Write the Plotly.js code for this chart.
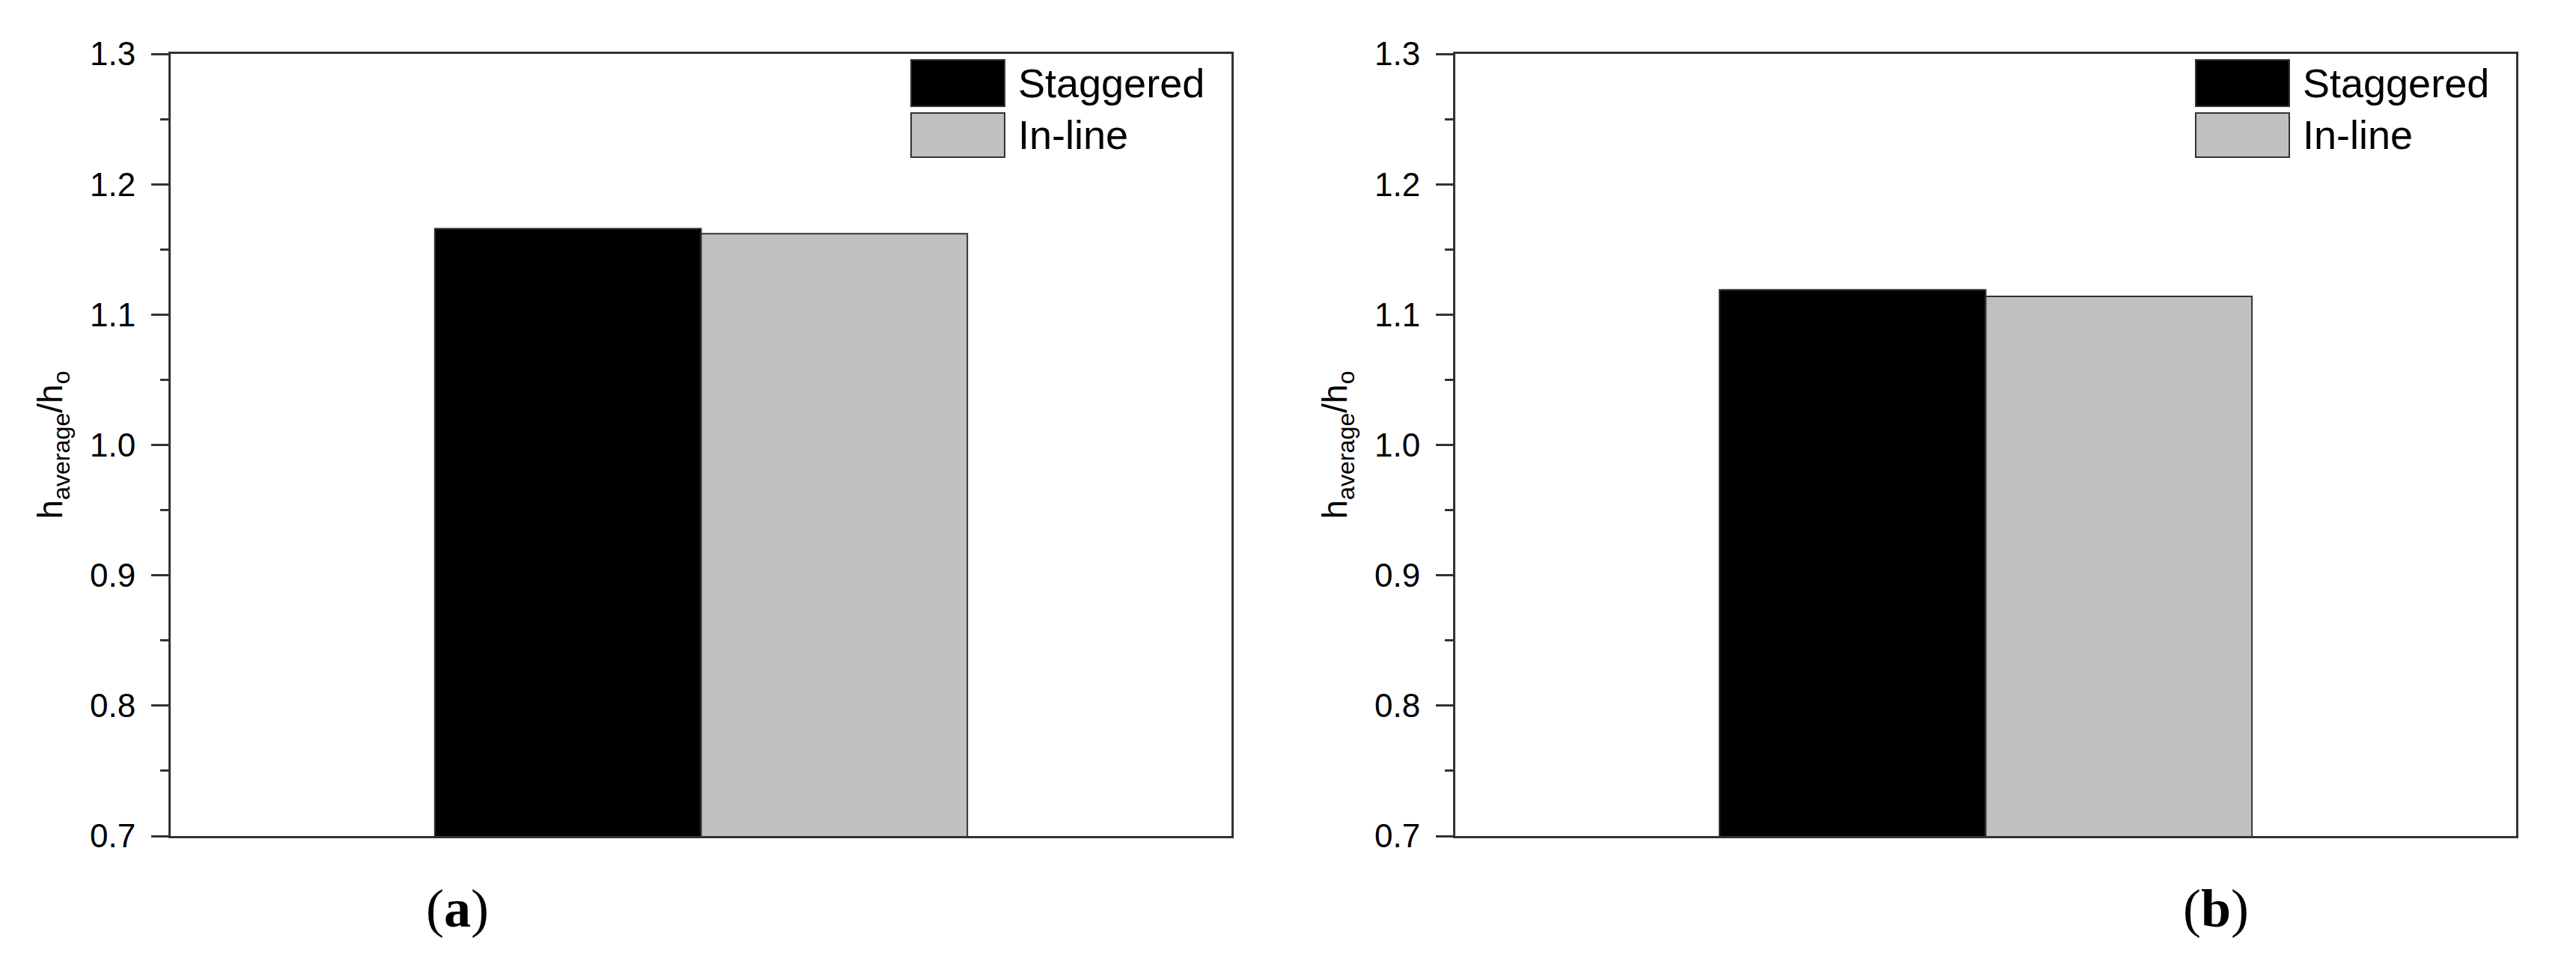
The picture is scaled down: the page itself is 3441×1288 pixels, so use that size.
<!DOCTYPE html>
<html>
<head>
<meta charset="utf-8">
<script src="https://cdn.plot.ly/plotly-3.0.1.min.js"></script>
<style>html,body{margin:0;padding:0;background:#fff;}#chart{width:3441px;height:1288px;}</style>
</head>
<body>
<div id="chart"></div>
<script>
// ---- data ----
const series = ['Staggered', 'In-line'];
const panels = ['a', 'b'];
const staggered = [1.166, 1.119];   // panel (a), panel (b)
const inline = [1.162, 1.114];      // panel (a), panel (b)
const yTickVals = [0.7, 0.8, 0.9, 1.0, 1.1, 1.2, 1.3];
const seriesColors = ['#000000', '#c0c0c0'];

// ---- layout geometry (pixels) ----
const W = 3441, H = 1288;
const px = v => v / W;
const py = v => 1 - v / H;
const panelLeft = [228, 1944];
const panelWidth = 1417;
const plotTop = 72, plotBottom = 1117;
const axisColor = '#333333';
const font = 'Liberation Sans, Arial, sans-serif';

const traces = [];
const layout = {
  width: W, height: H,
  margin: {l: 0, r: 0, t: 0, b: 0},
  paper_bgcolor: '#ffffff',
  plot_bgcolor: '#ffffff',
  showlegend: false,
  barmode: 'group',
  bargap: 0.498,
  bargroupgap: 0,
  font: {family: font, color: '#000', size: 44},
  shapes: [],
  annotations: []
};

const seriesValues = [staggered, inline];

panels.forEach((p, i) => {
  const sfx = i === 0 ? '' : String(i + 1);
  series.forEach((name, s) => {
    traces.push({
      type: 'bar',
      name: name,
      x: [1],
      y: [seriesValues[s][i]],
      xaxis: 'x' + sfx,
      yaxis: 'y' + sfx,
      marker: {color: seriesColors[s], line: {color: axisColor, width: 2}},
      hoverinfo: 'name+y'
    });
  });
  const d0 = px(panelLeft[i]), d1 = px(panelLeft[i] + panelWidth);
  layout['xaxis' + sfx] = {
    domain: [d0, d1],
    anchor: 'y' + sfx,
    range: [0.5, 1.5],
    showticklabels: false,
    ticks: '',
    showgrid: false,
    zeroline: false,
    showline: true,
    linecolor: axisColor,
    linewidth: 3,
    mirror: true,
    fixedrange: true
  };
  layout['yaxis' + sfx] = {
    domain: [py(plotBottom), py(plotTop)],
    anchor: 'x' + sfx,
    range: [0.7, 1.3],
    tickmode: 'array',
    tickvals: yTickVals,
    ticktext: yTickVals.map(v => v.toFixed(1)),
    ticks: 'outside',
    ticklen: 23,
    tickwidth: 3,
    tickcolor: axisColor,
    ticklabelstandoff: 12,
    tickfont: {family: font, size: 44, color: '#000'},
    minor: {dtick: 0.05, tick0: 0.7, ticks: 'outside', ticklen: 11, tickwidth: 3, tickcolor: axisColor, showgrid: false},
    showgrid: false,
    zeroline: false,
    showline: true,
    linecolor: axisColor,
    linewidth: 3,
    mirror: true,
    fixedrange: true,
    title: {
      text: 'h<sub>average</sub>/h<sub>o</sub>',
      font: {family: font, size: 46, color: '#000'},
      standoff: 22
    }
  };

  // legend drawn in the panel's top-right corner
  const right = panelLeft[i] + panelWidth;
  const swL = right - 428, swR = right - 303;
  const rows = [[80, 142], [151, 210]];
  series.forEach((name, s) => {
    layout.shapes.push({
      type: 'rect', xref: 'paper', yref: 'paper',
      x0: px(swL), x1: px(swR), y0: py(rows[s][1]), y1: py(rows[s][0]),
      fillcolor: seriesColors[s],
      line: {color: axisColor, width: 2}
    });
    layout.annotations.push({
      xref: 'paper', yref: 'paper',
      x: px(swR + 16), y: py((rows[s][0] + rows[s][1]) / 2),
      xanchor: 'left', yanchor: 'middle',
      text: name, showarrow: false,
      font: {family: font, size: 54, color: '#000'}
    });
  });
});

// panel labels
const labelX = [611, 2960];
panels.forEach((p, i) => {
  layout.annotations.push({
    xref: 'paper', yref: 'paper',
    x: px(labelX[i]), y: py(1214),
    xanchor: 'center', yanchor: 'middle',
    text: '(<b>' + p + '</b>)', showarrow: false,
    font: {family: 'Liberation Serif, Times New Roman, serif', size: 72, color: '#000'}
  });
});

Plotly.newPlot('chart', traces, layout, {displayModeBar: false, staticPlot: true});
</script>
</body>
</html>
